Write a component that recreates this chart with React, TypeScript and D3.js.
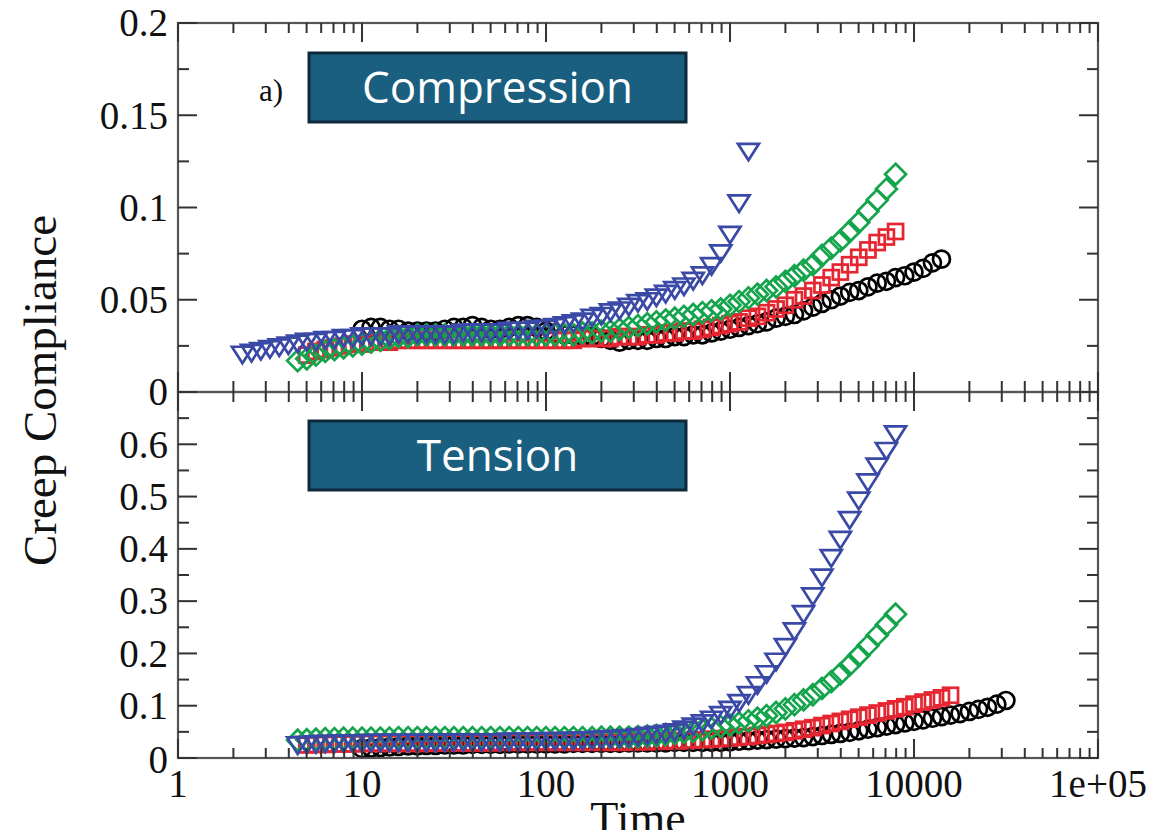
import React from "react";
import * as d3 from "d3";

// shared sampling times (s), ~20 per decade
const timeGrid = [
  2.24, 2.51, 2.82, 3.16, 3.55, 3.98, 4.47, 5.01, 5.62, 6.31, 7.08, 7.94, 8.91,
  10, 11.2, 12.6, 14.1, 15.8, 17.8, 20, 22.4, 25.1, 28.2, 31.6, 35.5, 39.8, 44.7,
  50.1, 56.2, 63.1, 70.8, 79.4, 89.1, 100, 112, 126, 141, 158, 178, 200, 224, 251,
  282, 316, 355, 398, 447, 501, 562, 631, 708, 794, 891, 1000, 1120, 1260, 1410,
  1580, 1780, 2000, 2240, 2510, 2820, 3160, 3550, 3980, 4470, 5010, 5620, 6310,
  7080, 7940, 8910, 10000, 11200, 12600, 14100, 15800, 17800, 20000, 22400,
  25100, 28200, 31600,
];

// Compression panel (start = index into timeGrid)
const compBlackStart = 13;
const compBlack = [
  0.034, 0.035, 0.035, 0.034, 0.034, 0.033, 0.033, 0.033, 0.033, 0.034, 0.035, 0.035, 0.036, 0.035, 0.034, 0.034, 0.035, 0.036, 0.036, 0.035,
  0.033, 0.032, 0.031, 0.031, 0.030, 0.030, 0.029, 0.028, 0.027, 0.028, 0.028, 0.028, 0.029, 0.029, 0.030, 0.030, 0.031, 0.031, 0.032, 0.033,
  0.034, 0.035, 0.036, 0.037, 0.038, 0.040, 0.041, 0.042, 0.044, 0.046, 0.048, 0.050, 0.052, 0.054, 0.055, 0.057, 0.059, 0.060, 0.062, 0.063, 0.065, 0.067, 0.070, 0.072,
];
const compRedStart = 7;
const compRed = [
  0.020, 0.022, 0.023, 0.024, 0.025, 0.026, 0.026,
  0.027, 0.027, 0.027, 0.028, 0.028, 0.028, 0.028, 0.028, 0.028, 0.028, 0.028, 0.028, 0.028, 0.028, 0.028, 0.028, 0.028, 0.028, 0.028,
  0.028, 0.028, 0.028, 0.028, 0.029, 0.029, 0.029, 0.029, 0.030, 0.030, 0.030, 0.031, 0.031, 0.032, 0.032, 0.033, 0.033, 0.034, 0.035, 0.036,
  0.037, 0.038, 0.040, 0.041, 0.043, 0.045, 0.047, 0.050, 0.052, 0.055, 0.058, 0.062, 0.065, 0.069, 0.073, 0.077, 0.081, 0.084, 0.087,
];
const compGreenStart = 6;
const compGreen = [
  0.017, 0.018, 0.020, 0.022, 0.023, 0.024, 0.025, 0.026,
  0.027, 0.028, 0.029, 0.030, 0.030, 0.031, 0.031, 0.031, 0.031, 0.031, 0.031, 0.031, 0.031, 0.031, 0.031, 0.031, 0.031, 0.031, 0.031,
  0.031, 0.031, 0.031, 0.031, 0.032, 0.032, 0.033, 0.033, 0.034, 0.035, 0.036, 0.037, 0.038, 0.039, 0.040, 0.041, 0.042, 0.043, 0.044, 0.045,
  0.047, 0.049, 0.051, 0.053, 0.055, 0.057, 0.060, 0.063, 0.066, 0.069, 0.074, 0.078, 0.082, 0.087, 0.092, 0.098, 0.104, 0.110, 0.118,
];
const compBlueStart = 0;
const compBlue = [
  0.021, 0.022, 0.023, 0.024, 0.025, 0.026, 0.027, 0.028, 0.028, 0.029, 0.029, 0.030, 0.030, 0.031,
  0.031, 0.031, 0.031, 0.032, 0.032, 0.032, 0.032, 0.032, 0.032, 0.032, 0.033, 0.033, 0.033, 0.033, 0.033, 0.034, 0.034, 0.034, 0.035,
  0.035, 0.036, 0.037, 0.038, 0.039, 0.041, 0.042, 0.044, 0.045, 0.047, 0.049, 0.050, 0.052, 0.054, 0.056, 0.058, 0.061, 0.064, 0.069, 0.076, 0.086, 0.103, 0.131,
];

// Tension panel
const tenBlackStart = 13;
const tenBlack = [
  0.018, 0.019, 0.020, 0.021, 0.022, 0.023, 0.023, 0.024, 0.024, 0.025, 0.025, 0.025, 0.026, 0.026, 0.026, 0.026, 0.027, 0.027, 0.027, 0.027,
  0.027, 0.027, 0.027, 0.028, 0.028, 0.028, 0.028, 0.028, 0.028, 0.029, 0.029, 0.029, 0.029, 0.029, 0.030, 0.030, 0.030, 0.030, 0.030, 0.030,
  0.031, 0.032, 0.033, 0.034, 0.035, 0.036, 0.037, 0.038, 0.039, 0.041, 0.043, 0.045, 0.047, 0.049, 0.052, 0.055, 0.058, 0.061, 0.064, 0.067,
  0.070, 0.073, 0.076, 0.079, 0.082, 0.085, 0.089, 0.093, 0.097, 0.103, 0.110,
];
const tenRedStart = 7;
const tenRed = [
  0.025, 0.026, 0.026, 0.027, 0.027, 0.027, 0.028,
  0.028, 0.028, 0.028, 0.028, 0.028, 0.028, 0.028, 0.029, 0.029, 0.029, 0.029, 0.029, 0.029, 0.029, 0.030, 0.030, 0.030, 0.030, 0.030,
  0.030, 0.030, 0.030, 0.030, 0.030, 0.030, 0.030, 0.030, 0.030, 0.030, 0.031, 0.031, 0.032, 0.032, 0.033, 0.033, 0.034, 0.035, 0.036, 0.037,
  0.038, 0.040, 0.041, 0.043, 0.045, 0.047, 0.049, 0.052, 0.055, 0.058, 0.062, 0.066, 0.070, 0.074, 0.078, 0.082, 0.086, 0.090, 0.094, 0.098,
  0.103, 0.107, 0.111, 0.115, 0.120,
];
const tenGreenStart = 6;
const tenGreen = [
  0.034, 0.035, 0.036, 0.037, 0.037, 0.038, 0.038, 0.038,
  0.038, 0.038, 0.038, 0.039, 0.039, 0.039, 0.039, 0.039, 0.039, 0.039, 0.039, 0.039, 0.039, 0.039, 0.039, 0.039, 0.039, 0.039, 0.039,
  0.039, 0.039, 0.039, 0.039, 0.039, 0.039, 0.040, 0.040, 0.040, 0.040, 0.041, 0.042, 0.043, 0.045, 0.047, 0.049, 0.051, 0.054, 0.057, 0.060,
  0.063, 0.067, 0.071, 0.076, 0.081, 0.087, 0.094, 0.102, 0.111, 0.121, 0.133, 0.146, 0.161, 0.178, 0.196, 0.215, 0.235, 0.255, 0.275,
];
const tenBlueStart = 6;
const tenBlue = [
  0.027, 0.028, 0.029, 0.030, 0.030, 0.031, 0.031, 0.031,
  0.032, 0.032, 0.032, 0.032, 0.032, 0.032, 0.032, 0.032, 0.032, 0.033, 0.033, 0.033, 0.033, 0.033, 0.033, 0.034, 0.034, 0.034, 0.034,
  0.035, 0.035, 0.035, 0.036, 0.036, 0.037, 0.038, 0.039, 0.040, 0.041, 0.043, 0.045, 0.047, 0.049, 0.052, 0.057, 0.063, 0.069, 0.076, 0.085,
  0.095, 0.108, 0.123, 0.142, 0.163, 0.187, 0.215, 0.245, 0.278, 0.312, 0.348, 0.385, 0.420, 0.458, 0.495, 0.530, 0.560, 0.590, 0.622,
];

const xTicks = [1, 10, 100, 1000, 10000, 100000];
const xTickLabels = ["1", "10", "100", "1000", "10000", "1e+05"];
const topYMajor = [0, 0.05, 0.1, 0.15, 0.2];
const topYLabels = ["0", "0.05", "0.1", "0.15", "0.2"];
const topYMinor = [0.025, 0.075, 0.125, 0.175];
const botYMajor = [0, 0.1, 0.2, 0.3, 0.4, 0.5, 0.6, 0.7];
const botYLabels = ["0", "0.1", "0.2", "0.3", "0.4", "0.5", "0.6"];
const botYMinor = [0.05, 0.15, 0.25, 0.35, 0.45, 0.55, 0.65];

const colors = { black: "#000000", red: "#e52530", green: "#14a44c", blue: "#3b49a6" };

const left = 178;
const right = 1098;
const top = 23;
const mid = 392;
const bottom = 758;

const x = d3.scaleLog().domain([1, 1e5]).range([left, right]);
const yTop = d3.scaleLinear().domain([0, 0.2]).range([mid, top]);
const yBot = d3.scaleLinear().domain([0, 0.7]).range([bottom, mid]);

const serif = "'Liberation Serif', 'Times New Roman', serif";
const tickFont = 39;

type Shape = "circle" | "square" | "diamond" | "triangle";

function Markers({ start, values, y, shape, color }: { start: number; values: number[]; y: d3.ScaleLinear<number, number>; shape: Shape; color: string }) {
  return (
    <g fill="none" stroke={color} strokeWidth={2.7}>
      {values.map((v, i) => {
        const cx = x(timeGrid[start + i]);
        const cy = y(v);
        const t = `translate(${cx},${cy})`;
        if (shape === "circle") return <circle key={i} cx={cx} cy={cy} r={8.5} />;
        if (shape === "square") return <rect key={i} transform={t} x={-7.5} y={-7.5} width={15} height={15} />;
        if (shape === "diamond") return <path key={i} transform={t} d="M0,-10.5L10.5,0L0,10.5L-10.5,0Z" />;
        return <path key={i} transform={t} d="M-10.5,-6.5L10.5,-6.5L0,10Z" />;
      })}
    </g>
  );
}

function Panel({ y, series }: { y: d3.ScaleLinear<number, number>; series: [number, number[], Shape, string][] }) {
  return (
    <g>
      {series.map(([s, vals, shape, c], i) => (
        <Markers key={i} start={s} values={vals} y={y} shape={shape} color={c} />
      ))}
    </g>
  );
}

export default function App() {
  const xAll = x.ticks();
  const isMajor = (t: number) => Math.abs(Math.log10(t) - Math.round(Math.log10(t))) < 1e-9;
  const tickColor = "#333";

  return (
    <svg width={1168} height={830} style={{ position: "absolute", left: 0, top: 0, background: "#fff" }}>
      <rect width={1168} height={830} fill="#fff" />

      {/* data */}
      <Panel
        y={yTop}
        series={[
          [compBlackStart, compBlack, "circle", colors.black],
          [compRedStart, compRed, "square", colors.red],
          [compGreenStart, compGreen, "diamond", colors.green],
          [compBlueStart, compBlue, "triangle", colors.blue],
        ]}
      />
      <Panel
        y={yBot}
        series={[
          [tenBlackStart, tenBlack, "circle", colors.black],
          [tenRedStart, tenRed, "square", colors.red],
          [tenGreenStart, tenGreen, "diamond", colors.green],
          [tenBlueStart, tenBlue, "triangle", colors.blue],
        ]}
      />

      {/* frames */}
      <g fill="none" stroke="#555" strokeWidth={2.2}>
        <rect x={left} y={top} width={right - left} height={mid - top} />
        <rect x={left} y={mid} width={right - left} height={bottom - mid} />
      </g>

      {/* x ticks */}
      <g stroke={tickColor} strokeWidth={2}>
        {xAll.map((t, i) => {
          const px = x(t);
          const maj = isMajor(t);
          const L = maj ? 19 : 10;
          return (
            <g key={i}>
              <line x1={px} x2={px} y1={top} y2={top + L} />
              <line x1={px} x2={px} y1={mid - L - 1} y2={mid + L} />
              <line x1={px} x2={px} y1={bottom - L} y2={bottom} />
            </g>
          );
        })}
      </g>

      {/* y ticks */}
      <g stroke={tickColor} strokeWidth={2}>
        {topYMajor.map((v, i) => (
          <g key={"tm" + i}>
            <line x1={left} x2={left + 19} y1={yTop(v)} y2={yTop(v)} />
            <line x1={right - 19} x2={right} y1={yTop(v)} y2={yTop(v)} />
          </g>
        ))}
        {topYMinor.map((v, i) => (
          <g key={"tn" + i}>
            <line x1={left} x2={left + 11} y1={yTop(v)} y2={yTop(v)} />
            <line x1={right - 11} x2={right} y1={yTop(v)} y2={yTop(v)} />
          </g>
        ))}
        {botYMajor.map((v, i) => (
          <g key={"bm" + i}>
            <line x1={left} x2={left + 19} y1={yBot(v)} y2={yBot(v)} />
            <line x1={right - 19} x2={right} y1={yBot(v)} y2={yBot(v)} />
          </g>
        ))}
        {botYMinor.map((v, i) => (
          <g key={"bn" + i}>
            <line x1={left} x2={left + 11} y1={yBot(v)} y2={yBot(v)} />
            <line x1={right - 11} x2={right} y1={yBot(v)} y2={yBot(v)} />
          </g>
        ))}
      </g>

      {/* tick labels */}
      <g fontFamily={serif} fontSize={tickFont} fill="#111">
        {topYMajor.map((v, i) => (
          <text key={"tl" + i} x={168} y={yTop(v)} dy="0.34em" textAnchor="end">
            {topYLabels[i]}
          </text>
        ))}
        {botYLabels.map((lab, i) =>
          i === 0 ? null : (
            <text key={"bl" + i} x={168} y={yBot(botYMajor[i])} dy="0.34em" textAnchor="end">
              {lab}
            </text>
          )
        )}
        <text x={168} y={yBot(0) + 2} dy="0.34em" textAnchor="end">
          {botYLabels[0]}
        </text>
        {xTicks.map((t, i) => (
          <text key={"xl" + i} x={x(t)} y={797} textAnchor="middle">
            {xTickLabels[i]}
          </text>
        ))}
      </g>

      {/* axis titles */}
      <text
        transform={`translate(56,${(top + bottom) / 2}) rotate(-90)`}
        textAnchor="middle"
        fontFamily={serif}
        fontSize={47}
        fill="#111"
      >
        Creep Compliance
      </text>
      <text x={(left + right) / 2} y={834} textAnchor="middle" fontFamily={serif} fontSize={46} fill="#111">
        Time
      </text>
      <text x={259} y={101} fontFamily={serif} fontSize={31} fill="#111">
        a)
      </text>

      {/* panel labels */}
      <g>
        <rect x={309} y={53} width={377} height={69} fill="#1a5e80" stroke="#0e2a3a" strokeWidth={3} />
        <text x={497.5} y={103} textAnchor="middle" fontFamily="'Open Sans', sans-serif" fontSize={44} fill="#fff">
          Compression
        </text>
        <rect x={309} y={421} width={377} height={69} fill="#1a5e80" stroke="#0e2a3a" strokeWidth={3} />
        <text x={497.5} y={471} textAnchor="middle" fontFamily="'Open Sans', sans-serif" fontSize={44} fill="#fff">
          Tension
        </text>
      </g>
    </svg>
  );
}
